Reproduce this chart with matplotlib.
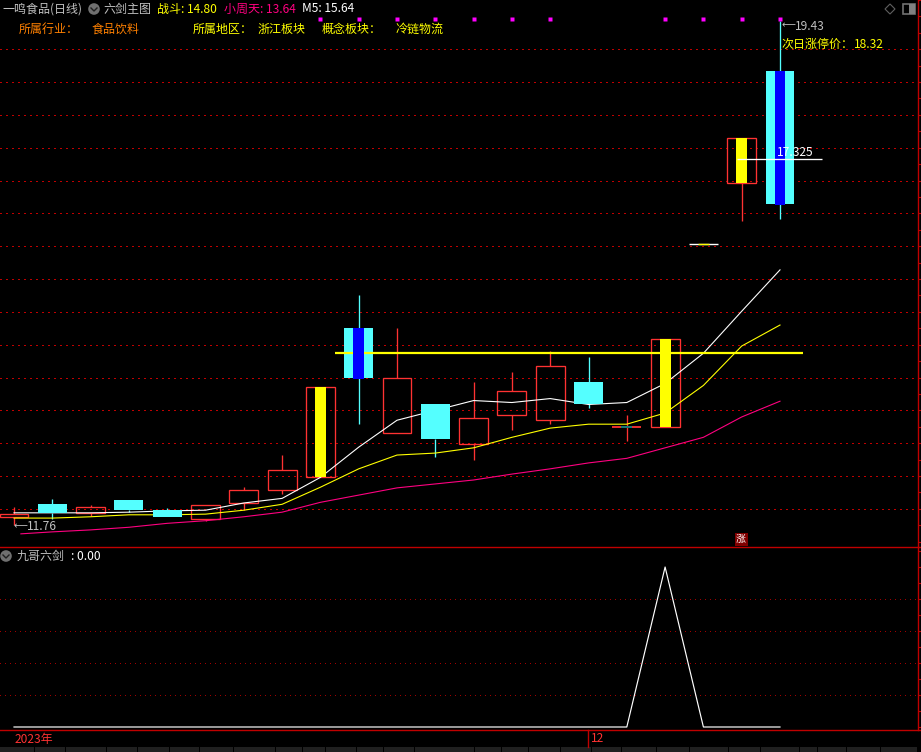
import matplotlib
matplotlib.use("Agg")
import matplotlib.pyplot as plt
import numpy as np
from matplotlib.patches import Circle, Polygon, Rectangle

plt.rcParams['font.family'] = ['Noto Sans CJK SC', 'DejaVu Sans']

W, H = 921, 752

# candles, one entry per trading day
days = list(range(21))
opens = [11.88, 12.08, 11.94, 12.13, 11.98, 11.85, 12.09, 12.29, 12.48, 14.75, 13.15,
         13.59, 12.99, 13.43, 13.35, 13.93, 13.24, 13.24, 16.04, 16.97, 18.67]
closes = [11.92, 11.94, 12.03, 11.98, 11.88, 12.06, 12.29, 12.59, 13.85, 13.99, 14.00,
          13.06, 13.38, 13.79, 14.17, 13.59, 13.24, 14.58, 16.04, 17.65, 16.65]
highs = [12.03, 12.15, 12.06, 12.13, 12.01, 12.06, 12.33, 12.82, 13.85, 15.25, 14.75,
         13.59, 13.94, 14.08, 14.41, 14.32, 13.43, 14.58, 16.04, 17.65, 19.43]
lows = [11.76, 11.85, 11.89, 11.95, 11.88, 11.82, 11.98, 12.23, 12.48, 13.29, 13.15,
        12.79, 12.74, 13.20, 13.30, 13.53, 13.03, 13.24, 16.04, 16.38, 16.42]
yellow_days = [8, 17, 19]
blue_days = [9, 20]
marker_days = [8, 9, 10, 11, 12, 13, 14, 17, 18, 19, 20]

ma_white = [11.94, 11.94, 11.94, 11.95, 11.97, 11.98, 12.09, 12.16, 12.48, 12.94, 13.35,
            13.50, 13.65, 13.62, 13.68, 13.59, 13.62, 13.91, 14.37, 15.01, 15.64]
ma_yellow = [11.86, 11.86, 11.88, 11.91, 11.91, 11.92, 11.98, 12.07, 12.33, 12.61, 12.82,
             12.85, 12.93, 13.09, 13.23, 13.29, 13.29, 13.46, 13.88, 14.48, 14.80]
ma_pink = [11.62, 11.65, 11.68, 11.72, 11.78, 11.82, 11.88, 11.95, 12.10, 12.21, 12.32,
           12.38, 12.44, 12.53, 12.61, 12.70, 12.77, 12.93, 13.09, 13.40, 13.64]
sword = [0, 0, 0, 0, 0, 0, 0, 0, 0, 0, 0, 0, 0, 0, 0, 0, 0, 100, 0, 0, 0]

tab_edges = [0, 35, 66, 107, 138, 170, 200, 234, 276, 303, 326, 357, 384, 415, 475, 502,
             529, 561, 592, 622, 657, 690, 729, 761, 800, 818, 847, 881, 918]

RED = '#ff3232'
CYAN = '#54ffff'
GRID = '#c00000'
AXIS = '#c00000'

fig = plt.figure(figsize=(W / 100, H / 100), dpi=100, facecolor='black')


def box(top, bottom):
    return [0, 1 - bottom / H, 918 / W, (bottom - top) / H]


ax = fig.add_axes(box(0, 547))
ax2 = fig.add_axes(box(547, 730))
for a in (ax, ax2):
    a.set_facecolor('black')
    a.set_xlim(-14 / 38.3, 904 / 38.3)
    a.yaxis.tick_right()
    a.set_xticks([])
    a.tick_params(axis='y', which='both', length=2.2, width=0.8, color=AXIS, labelright=False)
    for s in ('top', 'left', 'bottom'):
        a.spines[s].set_visible(False)
    a.spines['right'].set_color(AXIS)
    a.spines['right'].set_linewidth(1.0)

ax.set_ylim(19.734 - 0.0152 * 547, 19.734)
ax2.set_ylim(-1.875, 112.5)
ax.set_yticks(np.arange(11.5, 19.76, 0.25))
ax2.set_yticks(np.arange(0, 111, 10))

for level in np.arange(12.0, 19.01, 0.5):
    ax.axhline(level, color=GRID, lw=0.8, ls=(0, (1, 3.9)), zorder=1, antialiased=False)
for level in [20, 40, 60, 80]:
    ax2.axhline(level, color='#a00000', lw=0.72, ls=(0, (1, 4.2)), zorder=1, antialiased=False)

# moving averages sit above hollow candles but below the filled ones
for vals, col in ((ma_pink, '#ff0080'), (ma_yellow, '#ffff00'), (ma_white, '#ffffff')):
    xs = [0.18] + days[1:] if col == '#ff0080' else days
    ax.plot(xs, vals, color=col, lw=0.8, zorder=2.5)

half = 0.378
inner = 0.143
for d in days:
    o, c, h, l = opens[d], closes[d], highs[d], lows[d]
    up = c >= o
    col = RED if up else CYAN
    top, bot = max(o, c), min(o, c)
    if d == 18:
        ax.plot([d - half, d + half], [o, o], color='white', lw=1.0, zorder=3, solid_capstyle='butt')
        ax.plot([d - inner, d + inner], [o, o], color='#ffff00', lw=1.0, zorder=3.1, solid_capstyle='butt')
        continue
    if h > top:
        ax.plot([d, d], [top, h], color=col, lw=0.95, zorder=2, solid_capstyle='butt')
    if l < bot:
        ax.plot([d, d], [l, bot], color=col, lw=0.95, zorder=2, solid_capstyle='butt')
    if d == 16:
        ax.plot([d - half, d + half], [o, o], color=RED, lw=1.3, zorder=3, solid_capstyle='butt')
        ax.plot([d - inner, d + inner], [o, o], color='#008080', lw=1.3, zorder=3.1, solid_capstyle='butt')
    elif up:
        ax.add_patch(Rectangle((d - half, bot), 2 * half, top - bot, fill=False, edgecolor=RED, lw=0.95, zorder=2.2))
    else:
        ax.add_patch(Rectangle((d - half, bot), 2 * half, top - bot, facecolor=CYAN, edgecolor='none', zorder=3))

for d in yellow_days:
    ax.add_patch(Rectangle((d - inner, opens[d]), 2 * inner, closes[d] - opens[d], facecolor='#ffff00', edgecolor='none', zorder=3.2))
ax.plot([8.37, 20.6], [14.37, 14.37], color='#ffff00', lw=1.6, zorder=3.5, solid_capstyle='butt')
for d in blue_days:
    ax.add_patch(Rectangle((d - inner, closes[d] - 0.015), 2 * inner, opens[d] - closes[d] + 0.015, facecolor='#0000ff', edgecolor='none', zorder=4))
ax.plot([18.88, 21.1], [17.325, 17.325], color='white', lw=0.95, zorder=5, solid_capstyle='butt')
ax.plot(marker_days, [19.46] * len(marker_days), ls='none', marker='s', ms=2.4, mfc='#ff00ff', mec='none', zorder=5)

ax2.plot(days, sword, color='white', lw=0.85, zorder=3)


def label(x, y, s, color='#c0c0c0', size=8.64):
    fig.text(x / W, 1 - y / H, s, color=color, fontsize=size, va='center', ha='left', zorder=10)


def chevron_icon(x, y):
    fig.add_artist(Circle((x, H - y), 5.8, transform=None, facecolor='#707070', edgecolor='none'))
    fig.add_artist(plt.Line2D([x - 3, x, x + 3], [H - y + 1, H - y - 2, H - y + 1], transform=None, color='#202020', lw=1.0))


label(2, 9, '一鸣食品(日线)')
chevron_icon(94, 9)
label(103, 9, '六剑主图')
label(157, 9, '战斗: 14.80', '#ffff00')
label(224, 9, '小周天: 13.64', '#ff0080')
label(302, 9, 'M5: 15.64', '#ffffff')
label(19, 29, '所属行业：', '#ff8000')
label(92, 29, '食品饮料', '#ff8000')
label(193, 29, '所属地区：', '#ffff00')
label(258, 29, '浙江板块', '#ffff00')
label(322, 29, '概念板块：', '#ffff00')
label(396, 29, '冷链物流', '#ffff00')
label(781, 44, '次日涨停价：', '#ffff00')
label(854, 44, '18.32', '#ffff00')
label(781, 25, '⟵', '#c0c0c0', 7)
label(795, 26, '19.43')
label(13, 526, '⟵', '#c0c0c0', 7)
label(27, 527, '11.76')
label(777, 153, '17.325', '#ffffff')
chevron_icon(6, 556)
label(17, 556, '九哥六剑')
label(71, 556, ': 0.00', '#ffffff')
label(15, 739, '2023年', RED)
label(591, 739, '12', RED)

# panel borders
for y in (547, 730):
    fig.add_artist(plt.Line2D([0, 921], [H - y, H - y], transform=None, color=AXIS, lw=1.0))
fig.add_artist(plt.Line2D([588, 588], [H - 730, H - 747], transform=None, color=AXIS, lw=1.0))

# zhang marker under the limit-up day
fig.add_artist(Rectangle((734.5, H - 546), 13, 13, transform=None, facecolor='#800000', edgecolor='none', zorder=9))
label(736, 539, '涨', '#ffffff', 7.2)

# corner window buttons
fig.add_artist(Polygon([(890, H - 4), (895, H - 9), (890, H - 14), (885, H - 9)], transform=None, fill=False, edgecolor='#606060', lw=0.8))
fig.add_artist(Rectangle((903, H - 14), 12, 10, transform=None, fill=False, edgecolor='#707070', lw=1.2))
fig.add_artist(Rectangle((909, H - 14), 6, 10, transform=None, facecolor='#808080', edgecolor='none'))

# bottom tab strip
for left, right in zip(tab_edges[:-1], tab_edges[1:]):
    fig.add_artist(Rectangle((left, 0), right - left - 1, H - 747, transform=None, facecolor='#202020', edgecolor='none'))

fig.savefig('out.png', dpi=100, facecolor='black')
